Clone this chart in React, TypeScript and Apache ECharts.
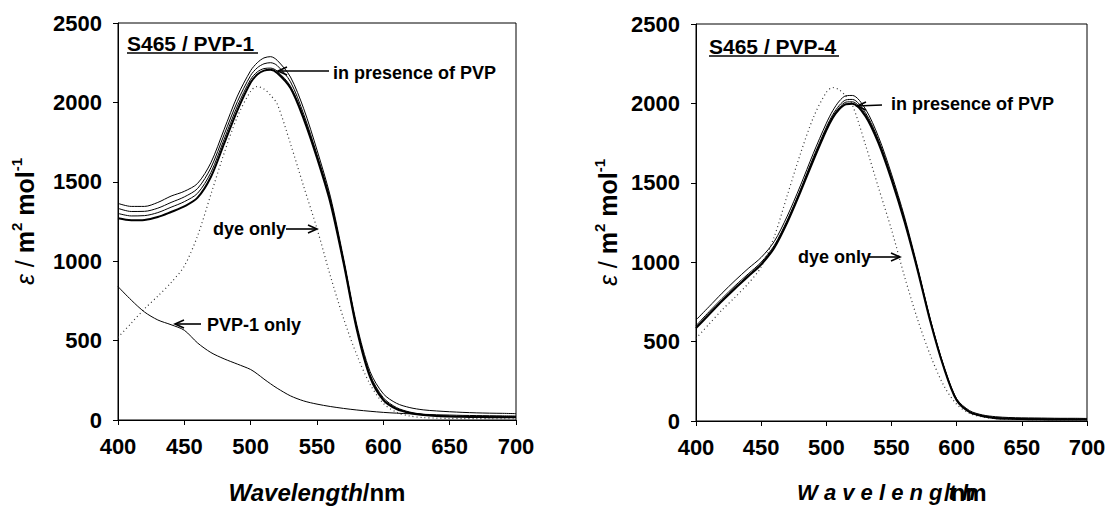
import React, { useEffect, useRef } from "react";
import * as echarts from "echarts";

const wavelengths = [400, 410, 420, 430, 440, 450, 460, 470, 480, 490, 500, 505, 510, 515, 520, 530, 540, 550, 560, 570, 580, 590, 600, 610, 620, 630, 640, 650, 660, 670, 680, 690, 700];

// Left panel: S465 / PVP-1
const pvp1Curve1 = [1364, 1345, 1345, 1370, 1410, 1440, 1490, 1620, 1830, 2040, 2200, 2250, 2280, 2288, 2265, 2160, 1960, 1700, 1410, 1020, 600, 305, 165, 105, 78, 64, 57, 52, 48, 45, 43, 42, 40];
const pvp1Curve2 = [1333, 1313, 1314, 1334, 1370, 1405, 1458, 1588, 1797, 2005, 2170, 2218, 2243, 2250, 2232, 2130, 1925, 1672, 1392, 1005, 584, 286, 140, 78, 50, 36, 29, 25, 23, 22, 21, 20, 20];
const pvp1Curve3 = [1301, 1285, 1287, 1306, 1340, 1375, 1428, 1558, 1768, 1977, 2145, 2192, 2213, 2216, 2197, 2102, 1908, 1660, 1380, 996, 576, 278, 132, 72, 46, 33, 26, 23, 21, 20, 19, 19, 18];
const pvp1Curve4 = [1270, 1258, 1260, 1278, 1310, 1345, 1400, 1530, 1740, 1950, 2125, 2175, 2200, 2205, 2185, 2090, 1895, 1650, 1370, 990, 570, 270, 125, 68, 44, 32, 25, 22, 20, 19, 18, 18, 17];
const pvp1Only = [840, 755, 680, 630, 600, 565, 485, 425, 385, 352, 318, 290, 258, 228, 200, 152, 120, 100, 85, 73, 63, 55, 48, 43, 39, 36, 33, 31, 29, 28, 27, 26, 25];

// Dye only (same in both panels)
const dyeOnly = [520, 610, 700, 780, 865, 970, 1160, 1420, 1680, 1910, 2070, 2100, 2085, 2045, 1990, 1740, 1470, 1205, 910, 640, 410, 225, 105, 48, 25, 15, 12, 10, 9, 9, 8, 8, 8];

// Right panel: S465 / PVP-4
const pvp4Curve1 = [636, 720, 805, 885, 960, 1030, 1130, 1290, 1480, 1685, 1875, 1955, 2015, 2048, 2050, 1965, 1790, 1555, 1285, 970, 635, 350, 140, 65, 38, 27, 22, 20, 19, 18, 17, 17, 16];
const pvp4Curve2 = [600, 688, 772, 852, 926, 1000, 1105, 1265, 1455, 1660, 1850, 1930, 1988, 2022, 2025, 1942, 1770, 1538, 1270, 960, 628, 345, 135, 59, 33, 22, 17, 15, 14, 13, 13, 12, 12];
const pvp4Curve3 = [592, 678, 762, 842, 917, 992, 1097, 1257, 1447, 1650, 1840, 1920, 1975, 2008, 2010, 1930, 1760, 1528, 1262, 955, 624, 342, 132, 56, 31, 20, 15, 13, 12, 11, 11, 10, 10];
const pvp4Curve4 = [585, 670, 755, 835, 910, 985, 1090, 1250, 1440, 1640, 1830, 1910, 1965, 1995, 1998, 1920, 1750, 1520, 1255, 950, 620, 340, 130, 55, 30, 18, 14, 12, 11, 10, 10, 9, 9];

const xTicks = { min: 400, max: 700, interval: 50 };
const yTicks = { min: 0, max: 2500, interval: 500 };

const FONT = "'Liberation Sans', Arial, Helvetica, sans-serif";

const toPairs = (vals: number[]) => wavelengths.map((w, i) => [w, vals[i]]);

function lineSeries(vals: number[], idx: number, width: number, dotted = false) {
  return {
    type: "line",
    xAxisIndex: idx,
    yAxisIndex: idx,
    data: toPairs(vals),
    showSymbol: false,
    symbol: "none",
    smooth: 0.3,
    lineStyle: {
      color: dotted ? "#333" : "#000",
      width,
      type: dotted ? [1, 3] : "solid",
    },
    z: dotted ? 2 : 3,
  };
}

function arrow(x1: number, y1: number, x2: number, y2: number) {
  const dir = Math.sign(x2 - x1);
  return [
    { type: "line", shape: { x1, y1, x2, y2 }, style: { stroke: "#000", lineWidth: 1.6 } },
    {
      type: "polyline",
      shape: { points: [[x2 - dir * 9, y2 - 4], [x2, y2], [x2 - dir * 9, y2 + 4]] },
      style: { stroke: "#000", lineWidth: 1.6, fill: null },
    },
  ];
}

function label(text: string, x: number, y: number, size = 18) {
  return {
    type: "text",
    x,
    y,
    style: { text, fontFamily: FONT, fontWeight: "bold", fontSize: size, fill: "#000", align: "left", verticalAlign: "middle" },
  };
}

const yName = "{e|ε}{n| / }{b|m}{s|2}{b| mol}{s|-1}";
const yNameRich = {
  e: { fontFamily: FONT, fontStyle: "italic", fontSize: 25, color: "#000", lineHeight: 32 },
  n: { fontFamily: FONT, fontSize: 25, color: "#000", lineHeight: 32 },
  b: { fontFamily: FONT, fontWeight: "bold", fontSize: 25, color: "#000", lineHeight: 32 },
  s: { fontFamily: FONT, fontWeight: "bold", fontSize: 15, color: "#000", verticalAlign: "top", lineHeight: 32 },
};

function xAxisCfg(idx: number) {
  return {
    type: "value",
    gridIndex: idx,
    ...xTicks,
    axisLine: { show: true, onZero: false, lineStyle: { color: "#000", width: 1 } },
    axisTick: { show: true, inside: false, length: 5, lineStyle: { color: "#000" } },
    axisLabel: { fontFamily: FONT, fontWeight: "bold", fontSize: 22, color: "#000", margin: 15 },
    splitLine: { show: false },
  };
}

function yAxisCfg(idx: number, gap: number) {
  return {
    type: "value",
    gridIndex: idx,
    ...yTicks,
    axisLine: { show: true, lineStyle: { color: "#000", width: 1 } },
    axisTick: { show: true, inside: false, length: 5, lineStyle: { color: "#000" } },
    axisLabel: { fontFamily: FONT, fontWeight: "bold", fontSize: 22, color: "#000", margin: 16, formatter: (v: number) => String(v) },
    splitLine: { show: false },
    name: yName,
    nameLocation: "middle",
    nameRotate: 90,
    nameGap: gap,
    nameTextStyle: { rich: yNameRich },
  };
}

export default function App() {
  const ref = useRef<HTMLDivElement>(null);

  useEffect(() => {
    if (!ref.current) return;
    const chart = echarts.init(ref.current, undefined, { renderer: "svg" });
    const option = {
      animation: false,
      backgroundColor: "#fff",
      grid: [
        { left: 118, top: 23, width: 398, height: 397, show: true, borderColor: "#000", borderWidth: 1, backgroundColor: "#fff", containLabel: false, outerBoundsMode: "none" },
        { left: 696, top: 24, width: 391, height: 397, show: true, borderColor: "#000", borderWidth: 1, backgroundColor: "#fff", containLabel: false, outerBoundsMode: "none" },
      ],
      xAxis: [xAxisCfg(0), xAxisCfg(1)],
      yAxis: [yAxisCfg(0, 77), yAxisCfg(1, 72)],
      series: [
        lineSeries(dyeOnly, 0, 1.2, true),
        lineSeries(pvp1Only, 0, 1),
        lineSeries(pvp1Curve1, 0, 1),
        lineSeries(pvp1Curve2, 0, 1),
        lineSeries(pvp1Curve3, 0, 1),
        lineSeries(pvp1Curve4, 0, 2),
        lineSeries(dyeOnly, 1, 1.2, true),
        lineSeries(pvp4Curve1, 1, 1),
        lineSeries(pvp4Curve2, 1, 1),
        lineSeries(pvp4Curve3, 1, 1),
        lineSeries(pvp4Curve4, 1, 2),
      ],
      graphic: [
        label("S465 / PVP-1", 127, 43, 21),
        { type: "line", shape: { x1: 127, y1: 53, x2: 258, y2: 53 }, style: { stroke: "#000", lineWidth: 1.5 } },
        label("S465 / PVP-4", 709, 46, 21),
        { type: "line", shape: { x1: 709, y1: 56, x2: 839, y2: 56 }, style: { stroke: "#000", lineWidth: 1.5 } },
        label("in presence of PVP", 333, 73),
        ...arrow(329, 71, 278, 71),
        label("dye only", 213, 229),
        ...arrow(286, 229, 317, 229),
        label("PVP-1 only", 207, 325),
        ...arrow(201, 324, 175, 324),
        label("in presence of PVP", 891, 104),
        ...arrow(882, 105, 857, 106),
        label("dye only", 798, 257),
        ...arrow(869, 257, 900, 257),
        {
          type: "text",
          x: 317,
          y: 492,
          style: {
            text: "{i|Wavelength}{n|/nm}",
            align: "center",
            verticalAlign: "middle",
            rich: {
              i: { fontFamily: FONT, fontWeight: "bold", fontStyle: "italic", fontSize: 24, fill: "#000" },
              n: { fontFamily: FONT, fontWeight: "bold", fontSize: 24, fill: "#000" },
            },
          },
        },
        {
          type: "text",
          x: 797,
          y: 492,
          style: { text: "W a v e l e n g t h", fontFamily: FONT, fontWeight: "bold", fontStyle: "italic", fontSize: 22, fill: "#000", align: "left", verticalAlign: "middle" },
        },
        {
          type: "text",
          x: 944,
          y: 492,
          style: { text: "/nm", fontFamily: FONT, fontWeight: "bold", fontSize: 24, fill: "#000", align: "left", verticalAlign: "middle" },
        },
      ],
    };
    chart.setOption(option as any);
    return () => chart.dispose();
  }, []);

  return <div ref={ref} style={{ position: "fixed", left: 0, top: 0, width: 1108, height: 507 }} />;
}
